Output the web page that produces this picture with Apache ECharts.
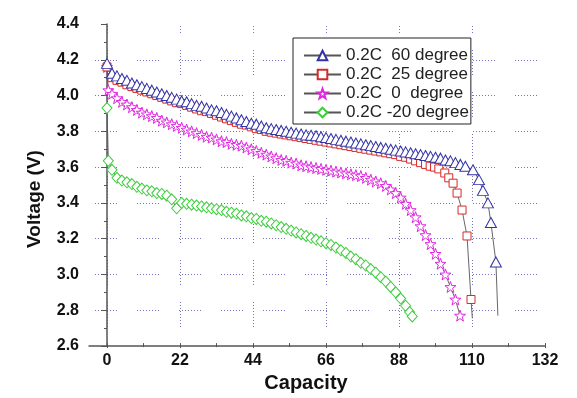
<!DOCTYPE html>
<html>
<head>
<meta charset="utf-8">
<script src="https://cdn.jsdelivr.net/npm/echarts@6/dist/echarts.min.js"></script>
<style>
  html, body { margin: 0; padding: 0; background: #fff; }
  #chart { width: 577px; height: 398px; }
</style>
</head>
<body>
<div id="chart"></div>
<script>
// tick labels
const xTicks = [0, 22, 44, 66, 88, 110, 132]
const yMin = 2.6
const yMax = 4.4

const legendNames = ['0.2C  60 degree', '0.2C  25 degree', '0.2C  0  degree', '0.2C -20 degree']

// 0.2C 60 degree
const cap60 = [
  0, 1.5, 3, 4.5, 6, 7.5, 9, 10.5, 12, 13.5,
  15, 16.5, 18, 19.5, 21, 22.5, 24, 25.5, 27, 28.5,
  30, 31.5, 33, 34.5, 36, 37.5, 39, 40.5, 42, 43.5,
  45, 46.5, 48, 49.5, 51, 52.5, 54, 55.5, 57, 58.5,
  60, 61.5, 63, 64.5, 66, 67.5, 69, 70.5, 72, 73.5,
  75, 76.5, 78, 79.5, 81, 82.5, 84, 85.5, 87, 88.5,
  90, 91.5, 93, 94.5, 96, 97.5, 99, 100.5, 102, 103.5,
  105, 106.5, 108, 110.3, 112.1, 113.3, 114.8, 115.7, 117.2
]
const volt60 = [
  4.18, 4.125, 4.11, 4.095, 4.085, 4.07, 4.06, 4.05, 4.04, 4.03,
  4.02, 4.01, 4.0, 3.99, 3.98, 3.97, 3.965, 3.955, 3.945, 3.94,
  3.93, 3.92, 3.915, 3.905, 3.895, 3.885, 3.875, 3.865, 3.855, 3.845,
  3.84, 3.83, 3.82, 3.815, 3.81, 3.805, 3.8, 3.795, 3.79, 3.785,
  3.78, 3.778, 3.775, 3.77, 3.765, 3.76, 3.755, 3.75, 3.745, 3.74,
  3.735, 3.73, 3.725, 3.72, 3.715, 3.71, 3.705, 3.7, 3.695, 3.69,
  3.685, 3.68, 3.675, 3.67, 3.665, 3.66, 3.655, 3.65, 3.64, 3.635,
  3.625, 3.615, 3.605, 3.585, 3.53, 3.47, 3.4, 3.29, 3.07
]
const end60 = [117.8, 2.77]

// 0.2C 25 degree
const cap25 = [
  0, 1.5, 3, 4.5, 6, 7.5, 9, 10.5, 12, 13.5,
  15, 16.5, 18, 19.5, 21, 22.5, 24, 25.5, 27, 28.5,
  30, 31.5, 33, 34.5, 36, 37.5, 39, 40.5, 42, 43.5,
  45, 46.5, 48, 49.5, 51, 52.5, 54, 55.5, 57, 58.5,
  60, 61.5, 63, 64.5, 66, 67.5, 69, 70.5, 72, 73.5,
  75, 76.5, 78, 79.5, 81, 82.5, 84, 85.5, 87, 88.5,
  90, 91.5, 93, 94.5, 96,
  97.4, 98.7, 100, 101.8, 103, 104.3, 105.5, 107, 108.5, 109.7
]
const volt25 = [
  4.16, 4.1, 4.085, 4.075, 4.06, 4.05, 4.04, 4.03, 4.02, 4.01,
  4.0, 3.99, 3.98, 3.97, 3.96, 3.955, 3.945, 3.935, 3.925, 3.915,
  3.91, 3.9, 3.89, 3.88, 3.87, 3.86, 3.85, 3.84, 3.835, 3.825,
  3.815, 3.81, 3.8, 3.795, 3.79, 3.785, 3.78, 3.775, 3.77, 3.765,
  3.76, 3.755, 3.75, 3.745, 3.74, 3.735, 3.73, 3.725, 3.72, 3.715,
  3.71, 3.705, 3.7, 3.695, 3.69, 3.685, 3.68, 3.675, 3.67, 3.66,
  3.655, 3.645, 3.635, 3.625, 3.615,
  3.605, 3.6, 3.59, 3.567, 3.54, 3.51, 3.455, 3.36, 3.215, 2.86
]
const end25 = [110.1, 2.755]

// 0.2C 0 degree
const cap0 = [
  0, 0.4, 1.5, 3, 4.5, 6, 7.5, 9, 10.5, 12, 13.5,
  15, 16.5, 18, 19.5, 21, 22.5, 24, 25.5, 27, 28.5,
  30, 31.5, 33, 34.5, 36, 37.5, 39, 40.5, 42, 43.5,
  45, 46.5, 48, 49.5, 51, 52.5, 54, 55.5, 57, 58.5,
  60, 61.5, 63, 64.5, 66, 67.5, 69, 70.5, 72, 73.5,
  75, 76.5, 78, 79.5, 81, 82.5, 84, 85.5, 87, 88.5,
  90, 91.5, 93, 94.5, 96, 97.5, 99, 100.5, 102, 103.5,
  105, 106.4
]
const volt0 = [
  4.16, 4.03, 4.01, 3.985, 3.965, 3.95, 3.935, 3.92, 3.905, 3.895, 3.885,
  3.875, 3.86, 3.85, 3.84, 3.83, 3.82, 3.81, 3.8, 3.79, 3.78,
  3.77, 3.765, 3.755, 3.745, 3.74, 3.73, 3.725, 3.72, 3.71, 3.7,
  3.69, 3.68, 3.67, 3.66, 3.65, 3.64, 3.635, 3.625, 3.62, 3.61,
  3.605, 3.6, 3.595, 3.59, 3.585, 3.58, 3.575, 3.57, 3.565, 3.56,
  3.555, 3.55, 3.54, 3.53, 3.52, 3.51, 3.495, 3.475, 3.455, 3.43,
  3.395, 3.36, 3.32, 3.27, 3.22, 3.17, 3.115, 3.06, 3.0, 2.93,
  2.86, 2.77
]

// 0.2C -20 degree
const capM20 = [
  0, 0.4, 1.5, 3, 4.5, 6, 7.5, 9, 10.5, 12, 13.5,
  15, 16.5, 18, 19.5, 21, 22.5, 24, 25.5, 27, 28.5,
  30, 31.5, 33, 34.5, 36, 37.5, 39, 40.5, 42, 43.5,
  45, 46.5, 48, 49.5, 51, 52.5, 54, 55.5, 57, 58.5,
  60, 61.5, 63, 64.5, 66, 67.5, 69, 70.5, 72, 73.5,
  75, 76.5, 78, 79.5, 81, 82.5, 84, 85.5, 87, 88.5,
  90, 91.2, 92
]
const voltM20 = [
  3.93, 3.635, 3.585, 3.54, 3.525, 3.515, 3.505, 3.49, 3.48, 3.47, 3.465,
  3.455, 3.45, 3.44, 3.42, 3.37, 3.4, 3.395, 3.39, 3.385, 3.38,
  3.375, 3.37, 3.365, 3.36, 3.35, 3.345, 3.34, 3.33, 3.325, 3.315,
  3.31, 3.3, 3.295, 3.285, 3.275, 3.265, 3.255, 3.245, 3.235, 3.225,
  3.215, 3.205, 3.195, 3.185, 3.175, 3.165, 3.15, 3.135, 3.12, 3.1,
  3.085, 3.065, 3.05, 3.03, 3.01, 2.985, 2.96, 2.93, 2.9, 2.865,
  2.825, 2.79, 2.765
]

const FONT = "'Liberation Sans', Arial, sans-serif"
const STAR = 'path://M0,-10L2.35,-3.24L9.51,-3.09L3.8,1.24L5.88,8.09L0,4L-5.88,8.09L-3.8,1.24L-9.51,-3.09L-2.35,-3.24Z'

// 点线网格（原图为分段的点线）
const hDash = [1, 2, 1, 2, 1, 2, 1, 2, 1, 2, 1, 2, 1, 2, 1, 20]
const vDash = [1, 2, 1, 2, 1, 2, 1, 2, 1, 2, 1, 2, 1, 2, 1, 2, 1, 17]
const gridColor = '#7474c0'
const axisColor = '#555'

const toPairs = (xs, ys) => xs.map((x, i) => [x, ys[i]])

const makeSeries = (name, xs, ys, end, symbol, size, color, z) => {
  const data = toPairs(xs, ys)
  if (end) data.push({ value: end, symbol: 'none' })
  return {
    name,
    type: 'line',
    xAxisIndex: 0,
    yAxisIndex: 0,
    data,
    symbol,
    symbolSize: size,
    showAllSymbol: true,
    clip: false,
    z,
    lineStyle: { color: '#555', width: 0.9 },
    itemStyle: { color: '#fff', borderColor: color, borderWidth: 1 },
    emphasis: { disabled: true }
  }
}

const chart = echarts.init(document.getElementById('chart'))

const option = {
  animation: false,
  backgroundColor: '#fff',
  grid: [
    // 数据区（含 y 轴）
    { left: 89, right: 32, top: 24, bottom: 52 },
    // x 轴刻度区（0 对齐到 107px）
    { left: 107, right: 32, top: 24, bottom: 52 }
  ],
  legend: {
    orient: 'vertical',
    left: 293,
    top: 38,
    data: legendNames,
    itemWidth: 37,
    itemHeight: 12,
    itemGap: 2,
    padding: [9, 2, 3, 10],
    borderColor: '#222',
    borderWidth: 1,
    backgroundColor: '#fff',
    selectedMode: false,
    textStyle: { fontFamily: FONT, fontSize: 17, color: '#222' }
  },
  xAxis: [
    {
      gridIndex: 0,
      type: 'value',
      min: -5.425,
      max: 132,
      axisLine: { show: true, lineStyle: { color: axisColor, width: 1.5 } },
      axisTick: { show: false },
      axisLabel: { show: false },
      splitLine: { show: false }
    },
    {
      gridIndex: 1,
      type: 'value',
      min: xTicks[0],
      max: xTicks[xTicks.length - 1],
      interval: 22,
      name: 'Capacity',
      nameLocation: 'middle',
      nameGap: 23,
      nameTextStyle: { fontFamily: FONT, fontSize: 20, fontWeight: 'bold', color: '#111', padding: [0, 40, 0, 0] },
      axisLine: { show: false },
      axisTick: { show: true, inside: false, length: 5, lineStyle: { color: axisColor, width: 1 } },
      minorTick: { show: true, splitNumber: 2, length: 4, lineStyle: { color: axisColor, width: 1 } },
      axisLabel: { margin: 9, fontFamily: FONT, fontSize: 16, fontWeight: 'bold', color: '#111' },
      splitLine: {
        show: true,
        showMaxLine: false,
        lineStyle: { color: gridColor, width: 1, type: vDash, dashOffset: 16 }
      }
    }
  ],
  yAxis: [
    {
      gridIndex: 0,
      type: 'value',
      min: yMin,
      max: yMax,
      interval: 0.2,
      name: 'Voltage (V)',
      nameLocation: 'middle',
      nameGap: 45,
      nameTextStyle: { fontFamily: FONT, fontSize: 19, fontWeight: 'bold', color: '#111', padding: [0, 28, 0, 0] },
      axisLine: { show: true, lineStyle: { color: axisColor, width: 1.5 } },
      axisTick: { show: true, length: 6, lineStyle: { color: axisColor, width: 1 } },
      minorTick: { show: true, splitNumber: 2, length: 3, lineStyle: { color: axisColor, width: 1 } },
      axisLabel: {
        margin: 10,
        fontFamily: FONT,
        fontSize: 16,
        fontWeight: 'bold',
        color: '#111',
        formatter: v => v.toFixed(1)
      },
      splitLine: {
        show: true,
        showMinLine: false,
        showMaxLine: false,
        lineStyle: { color: gridColor, width: 1, type: hDash, dashOffset: 36 }
      }
    },
    {
      gridIndex: 1,
      type: 'value',
      min: yMin,
      max: yMax,
      show: false
    }
  ],
  series: [
    makeSeries(legendNames[0], cap60, volt60, end60, 'triangle', [11, 10], '#3232a6', 6),
    makeSeries(legendNames[1], cap25, volt25, end25, 'rect', 8, '#d42a2a', 5),
    makeSeries(legendNames[2], cap0, volt0, null, STAR, 11, '#e026e0', 4),
    makeSeries(legendNames[3], capM20, voltM20, null, 'diamond', [10, 11], '#3ccc3c', 3)
  ]
}

chart.setOption(option)
</script>
</body>
</html>
